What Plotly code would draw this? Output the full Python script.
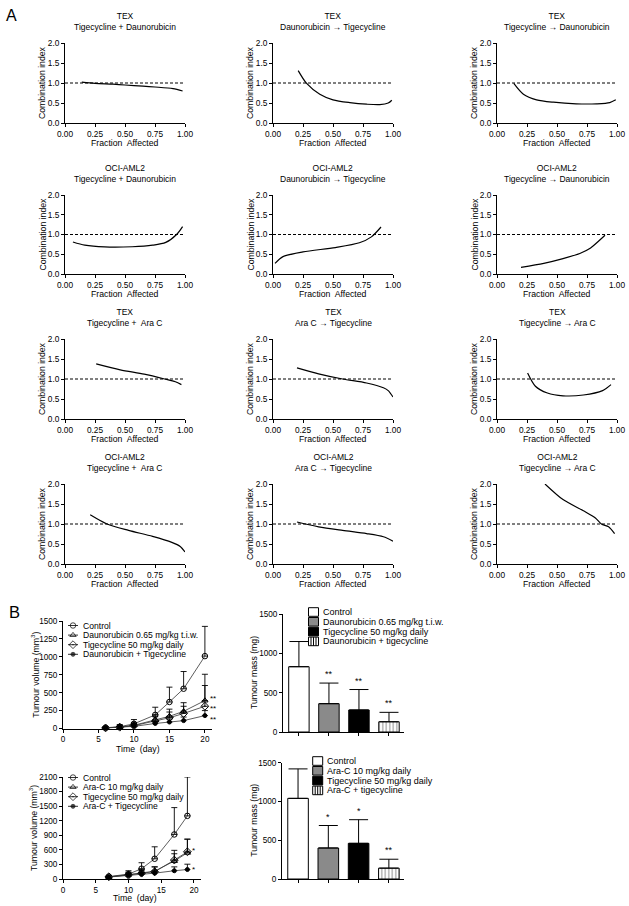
import plotly.graph_objects as go

W, H = 629, 906
FONT = "Arial, Liberation Sans, Helvetica, sans-serif"

# ---------------- Panel A data ----------------
ci_cells = ["TEX", "TEX", "TEX",
            "OCI-AML2", "OCI-AML2", "OCI-AML2",
            "TEX", "TEX", "TEX",
            "OCI-AML2", "OCI-AML2", "OCI-AML2"]
ci_combos = ["Tigecycline + Daunorubicin", "Daunorubicin \u2192 Tigecycline", "Tigecycline \u2192 Daunorubicin",
             "Tigecycline + Daunorubicin", "Daunorubicin \u2192 Tigecycline", "Tigecycline \u2192 Daunorubicin",
             "Tigecycline +  Ara C", "Ara C \u2192 Tigecycline", "Tigecycline \u2192 Ara C",
             "Tigecycline +  Ara C", "Ara C \u2192 Tigecycline", "Tigecycline \u2192 Ara C"]

fa_p1 = [0.14, 0.25, 0.40, 0.50, 0.65, 0.75, 0.90, 0.98]
ci_p1 = [1.02, 0.99, 0.97, 0.95, 0.92, 0.90, 0.86, 0.80]
fa_p2 = [0.21, 0.28, 0.39, 0.50, 0.64, 0.78, 0.89, 0.96, 0.99]
ci_p2 = [1.31, 0.99, 0.72, 0.58, 0.51, 0.47, 0.46, 0.50, 0.57]
fa_p3 = [0.14, 0.22, 0.33, 0.47, 0.66, 0.83, 0.94, 0.99]
ci_p3 = [0.99, 0.72, 0.58, 0.52, 0.48, 0.48, 0.51, 0.58]
fa_p4 = [0.066, 0.165, 0.33, 0.56, 0.73, 0.84, 0.93, 0.98]
ci_p4 = [0.81, 0.73, 0.685, 0.69, 0.73, 0.80, 1.00, 1.20]
fa_p5 = [0.017, 0.083, 0.25, 0.52, 0.72, 0.82, 0.90]
ci_p5 = [0.27, 0.44, 0.56, 0.67, 0.79, 0.94, 1.19]
fa_p6 = [0.20, 0.39, 0.55, 0.69, 0.78, 0.85, 0.90]
ci_p6 = [0.17, 0.27, 0.39, 0.52, 0.66, 0.84, 0.98]
fa_p7 = [0.26, 0.46, 0.66, 0.83, 0.92, 0.97]
ci_p7 = [1.38, 1.23, 1.12, 1.00, 0.93, 0.86]
fa_p8 = [0.20, 0.38, 0.58, 0.78, 0.92, 0.96, 1.00]
ci_p8 = [1.28, 1.13, 1.00, 0.90, 0.78, 0.71, 0.55]
fa_p9 = [0.255, 0.32, 0.42, 0.55, 0.72, 0.88, 0.95]
ci_p9 = [1.15, 0.82, 0.65, 0.58, 0.60, 0.71, 0.86]
fa_p10 = [0.21, 0.35, 0.53, 0.73, 0.89, 0.96, 1.00]
ci_p10 = [1.23, 1.00, 0.84, 0.69, 0.54, 0.44, 0.30]
fa_p11 = [0.20, 0.38, 0.58, 0.78, 0.92, 1.00]
ci_p11 = [1.05, 0.93, 0.84, 0.76, 0.68, 0.57]
fa_p12 = [0.40, 0.55, 0.72, 0.82, 0.87, 0.93, 0.98]
ci_p12 = [2.00, 1.61, 1.33, 1.15, 1.00, 0.93, 0.76]

fa_all = [fa_p1, fa_p2, fa_p3, fa_p4, fa_p5, fa_p6, fa_p7, fa_p8, fa_p9, fa_p10, fa_p11, fa_p12]
ci_all = [ci_p1, ci_p2, ci_p3, ci_p4, ci_p5, ci_p6, ci_p7, ci_p8, ci_p9, ci_p10, ci_p11, ci_p12]
ci_additive = 1.0
fa_ticks = [0, 0.25, 0.5, 0.75, 1.0]
ci_ticks = [0, 0.5, 1.0, 1.5, 2.0]

# ---------------- Panel B data ----------------
days_dnr = [6, 8, 10, 13, 15, 17, 20]
vol_ctrl_dnr = [10, 25, 65, 190, 370, 555, 1010]
sd_ctrl_dnr = [15, 30, 60, 107, 207, 240, 415]
vol_dnr = [8, 20, 45, 120, 170, 240, 390]
sd_dnr = [10, 20, 35, 70, 100, 120, 367]
vol_tig_dnr = [8, 18, 40, 105, 150, 210, 310]
sd_tig_dnr = [10, 15, 30, 60, 80, 100, 290]
vol_combo_dnr = [8, 15, 30, 70, 90, 110, 180]
sd_combo_dnr = [5, 10, 15, 30, 40, 50, 70]
stars_vol_dnr = ["", "**", "**", "**"]
names_vol_dnr = ["Control", "Daunorubicin 0.65 mg/kg t.i.w.", "Tigecycline 50 mg/kg daily", "Daunorubicin + Tigecycline"]

days_arac = [7, 10, 12, 14, 17, 19]
vol_ctrl_arac = [50, 100, 212, 417, 917, 1300]
sd_ctrl_arac = [15, 70, 123, 246, 553, 800]
vol_arac = [40, 90, 130, 160, 370, 540]
sd_arac = [10, 50, 70, 90, 220, 280]
vol_tig_arac = [45, 80, 120, 150, 390, 560]
sd_tig_arac = [10, 40, 60, 100, 130, 260]
vol_combo_arac = [40, 70, 100, 120, 170, 195]
sd_combo_arac = [10, 30, 40, 50, 80, 110]
stars_vol_arac = ["", "*", "", "*"]
names_vol_arac = ["Control", "Ara-C 10 mg/kg daily", "Tigecycline 50 mg/kg daily", "Ara-C + Tigecycline"]

mass_labels_dnr = ["Control", "Daunorubicin 0.65 mg/kg t.i.w.", "Tigecycline 50 mg/kg daily", "Daunorubicin + tigecycline"]
mass_dnr = [830, 360, 280, 130]
mass_sd_dnr = [320, 262, 260, 120]
mass_stars_dnr = ["", "**", "**", "**"]

mass_labels_arac = ["Control", "Ara-C 10 mg/kg daily", "Tigecycline 50 mg/kg daily", "Ara-C + tigecycline"]
mass_arac = [1040, 400, 460, 140]
mass_sd_arac = [380, 290, 305, 115]
mass_stars_arac = ["", "*", "*", "**"]

# ---------------- styles ----------------
bar_colors = ["white", "#8a8a8a", "black", "white"]
bar_patterns = ["", "", "", "|"]
vol_symbols = ["circle-open", "triangle-up-open", "diamond-open-dot", "circle"]
vol_sizes = [5.5, 5.5, 6, 4]
star_shift_dnr = [0, 2, -2, -4]      # px nudges of the significance marks
star_shift_arac = [0, 2, 0, 0]


def fx(p):
    return p / W


def fy(p):
    return 1 - p / H


def xr(ax):
    return "x" if ax == 1 else "x%d" % ax


def yr(ax):
    return "y" if ax == 1 else "y%d" % ax


def xkey(ax):
    return "xaxis" if ax == 1 else "xaxis%d" % ax


def ykey(ax):
    return "yaxis" if ax == 1 else "yaxis%d" % ax


def label(x, y, text, size, angle=0, xanchor="center"):
    return dict(x=fx(x), y=fy(y), xref="paper", yref="paper", text=text, showarrow=False,
                xanchor=xanchor, yanchor="middle", textangle=angle, align="center",
                font=dict(size=size, family=FONT, color="black"))


axis_common = dict(showline=True, linecolor="black", linewidth=1, ticks="outside", ticklen=3,
                   tickwidth=1, tickcolor="black", showgrid=False, zeroline=False, automargin=False,
                   tickfont=dict(size=8.3, family=FONT, color="black"))

fig = go.Figure()
layout = {}
annotations = []
shapes = []

# ---------------- Panel A ----------------
cols_px = [(65, 185), (273, 393), (497, 617)]
ytitle_x = [42, 250, 474]
rows_px = [(43, 123), (195, 274), (339, 419), (484, 564)]
title_cy = [21.5, 173.3, 317.7, 462]

for i in range(12):
    r, c = divmod(i, 3)
    ax = i + 1
    (x0, x1), (y0, y1) = cols_px[c], rows_px[r]
    layout[xkey(ax)] = dict(domain=[fx(x0), fx(x1)], anchor=yr(ax), range=[0, 1],
                            tickvals=fa_ticks, tickformat=".2f", **axis_common)
    layout[ykey(ax)] = dict(domain=[fy(y1), fy(y0)], anchor=xr(ax), range=[0, 2],
                            tickvals=ci_ticks, tickformat=".1f", **axis_common)
    fig.add_trace(go.Scatter(x=fa_all[i], y=ci_all[i], mode="lines",
                             line=dict(color="black", width=1.2, shape="spline", smoothing=0.8),
                             xaxis=xr(ax), yaxis=yr(ax), showlegend=False, cliponaxis=False))
    shapes.append(dict(type="line", xref=xr(ax) + " domain", yref=yr(ax), x0=0, x1=1,
                       y0=ci_additive, y1=ci_additive, layer="below",
                       line=dict(color="black", width=1, dash="3px,2px")))
    annotations.append(label((x0 + x1) / 2, title_cy[r], ci_cells[i] + "<br>" + ci_combos[i], 8.5))
    annotations.append(label((x0 + x1) / 2, y1 + 20, "Fraction  Affected", 8.7))
    annotations.append(label(ytitle_x[c], (y0 + y1) / 2, "Combination index", 8.7, angle=-90))

annotations.append(label(4, 15.5, "A", 16, xanchor="left"))
annotations.append(label(7, 612, "B", 16.5, xanchor="left"))

# ---------------- Panel B line charts ----------------
b_axis = dict(axis_common)
b_axis["tickfont"] = dict(size=8.2, family=FONT, color="black")

line_specs = [
    dict(ax=13, xpx=(63, 212), ypx=(621, 728.5), yr=[0, 1500], ydt=250, days=days_dnr,
         vals=[vol_ctrl_dnr, vol_dnr, vol_tig_dnr, vol_combo_dnr],
         sds=[sd_ctrl_dnr, sd_dnr, sd_tig_dnr, sd_combo_dnr], stars=stars_vol_dnr,
         shifts=star_shift_dnr, names=names_vol_dnr, leg_y=625.5, leg_x=73, ytx=35, xty=749, xtx=137.5),
    dict(ax=14, xpx=(63, 200.5), ypx=(777, 879), yr=[0, 2100], ydt=300, days=days_arac,
         vals=[vol_ctrl_arac, vol_arac, vol_tig_arac, vol_combo_arac],
         sds=[sd_ctrl_arac, sd_arac, sd_tig_arac, sd_combo_arac], stars=stars_vol_arac,
         shifts=star_shift_arac, names=names_vol_arac, leg_y=777.5, leg_x=73, ytx=33, xty=898, xtx=135),
]

leg_ax = 17
layout[xkey(leg_ax)] = dict(domain=[0, 1], range=[0, W], visible=False, anchor=yr(leg_ax),
                            fixedrange=True, automargin=False)
layout[ykey(leg_ax)] = dict(domain=[0, 1], range=[H, 0], visible=False, anchor=xr(leg_ax),
                            fixedrange=True, automargin=False)

for sp in line_specs:
    ax = sp["ax"]
    layout[xkey(ax)] = dict(domain=[fx(sp["xpx"][0]), fx(sp["xpx"][1])], anchor=yr(ax),
                            range=[0, 21], tickvals=[0, 5, 10, 15, 20], **b_axis)
    layout[ykey(ax)] = dict(domain=[fy(sp["ypx"][1]), fy(sp["ypx"][0])], anchor=xr(ax),
                            range=sp["yr"], dtick=sp["ydt"], tick0=0, **b_axis)
    annotations.append(label(sp["xtx"], sp["xty"], "Time  (day)", 8.7))
    annotations.append(label(sp["ytx"], (sp["ypx"][0] + sp["ypx"][1]) / 2,
                             "Tumour volume (mm<sup>3</sup>)", 8.7, angle=-90))
    for k in range(4):
        fig.add_trace(go.Scatter(
            x=sp["days"], y=sp["vals"][k], mode="lines+markers",
            line=dict(color="#333333", width=0.8),
            marker=dict(symbol=vol_symbols[k], size=vol_sizes[k], color="black",
                        line=dict(color="black", width=1)),
            error_y=dict(type="data", symmetric=False, array=sp["sds"][k],
                         arrayminus=[0] * len(sp["sds"][k]), color="black", thickness=0.9, width=3),
            xaxis=xr(ax), yaxis=yr(ax), showlegend=False, cliponaxis=False))
        if sp["stars"][k]:
            annotations.append(dict(x=sp["days"][-1], y=sp["vals"][k][-1], xref=xr(ax),
                                    yref=yr(ax), text=sp["stars"][k], showarrow=False,
                                    xanchor="left", yanchor="middle", xshift=4,
                                    yshift=sp["shifts"][k], borderpad=0,
                                    font=dict(size=8, family=FONT, color="black")))
    step = 9.6
    lx = sp["leg_x"]
    for k in range(4):
        yy = sp["leg_y"] + k * step
        shapes.append(dict(type="line", xref="paper", yref="paper", x0=fx(lx - 5), x1=fx(lx + 5),
                           y0=fy(yy), y1=fy(yy), line=dict(color="black", width=0.8)))
        annotations.append(label(lx + 8, yy, sp["names"][k], 8.6, xanchor="left"))
    fig.add_trace(go.Scatter(
        x=[lx] * 4, y=[sp["leg_y"] + k * step for k in range(4)], mode="markers",
        marker=dict(symbol=vol_symbols, size=vol_sizes, color="black",
                    line=dict(color="black", width=1)),
        xaxis=xr(leg_ax), yaxis=yr(leg_ax), showlegend=False, hoverinfo="skip"))

# ---------------- Panel B bar charts ----------------
bar_specs = [
    dict(ax=15, xpx=(283, 404), ypx=(614, 732), vals=mass_dnr, sds=mass_sd_dnr,
         stars=mass_stars_dnr, labels=mass_labels_dnr, box_x=(308.5, 318.5), leg_y=612, text_x=320.5),
    dict(ax=16, xpx=(282, 404), ypx=(762.7, 879), vals=mass_arac, sds=mass_sd_arac,
         stars=mass_stars_arac, labels=mass_labels_arac, box_x=(312.7, 322.7), leg_y=761, text_x=325),
]

for sp in bar_specs:
    ax = sp["ax"]
    cats = list(range(len(sp["vals"])))
    layout[xkey(ax)] = dict(domain=[fx(sp["xpx"][0]), fx(sp["xpx"][1])], anchor=yr(ax),
                            range=[-0.53, 3.5], tickvals=cats, showticklabels=False, **b_axis)
    layout[ykey(ax)] = dict(domain=[fy(sp["ypx"][1]), fy(sp["ypx"][0])], anchor=xr(ax),
                            range=[0, 1500], tickvals=[0, 500, 1000, 1500], **b_axis)
    annotations.append(label(254, (sp["ypx"][0] + sp["ypx"][1]) / 2, "Tumour mass (mg)", 8.7, angle=-90))
    fig.add_trace(go.Bar(
        x=cats, y=sp["vals"], width=0.68,
        marker=dict(color=bar_colors, line=dict(color="black", width=1),
                    pattern=dict(shape=bar_patterns, fgcolor="black", bgcolor="white", size=3.5,
                                 solidity=0.35)),
        error_y=dict(type="data", symmetric=False, array=sp["sds"], arrayminus=[0] * len(cats),
                     color="black", thickness=1, width=9.5),
        xaxis=xr(ax), yaxis=yr(ax), showlegend=False, cliponaxis=False))
    for k in cats:
        if sp["stars"][k]:
            annotations.append(dict(x=k, y=sp["vals"][k] + sp["sds"][k], xref=xr(ax),
                                    yref=yr(ax), text=sp["stars"][k], showarrow=False,
                                    xanchor="center", yanchor="bottom", yshift=2,
                                    font=dict(size=9, family=FONT, color="black")))
    step = 9.8
    bx0, bx1 = sp["box_x"]
    for k in range(len(sp["labels"])):
        yc = sp["leg_y"] + k * step
        shapes.append(dict(type="rect", xref="paper", yref="paper", x0=fx(bx0), x1=fx(bx1),
                           y0=fy(yc + 4.3), y1=fy(yc - 4.3), fillcolor=bar_colors[k],
                           line=dict(color="black", width=1)))
        if bar_patterns[k]:
            for j in range(1, 4):
                xl = bx0 + j * (bx1 - bx0) / 4
                shapes.append(dict(type="line", xref="paper", yref="paper", x0=fx(xl), x1=fx(xl),
                                   y0=fy(yc + 4.3), y1=fy(yc - 4.3),
                                   line=dict(color="black", width=1)))
        annotations.append(label(sp["text_x"], yc, sp["labels"][k], 9, xanchor="left"))

fig.update_layout(**layout)
fig.update_layout(width=W, height=H, margin=dict(l=0, r=0, t=0, b=0, pad=0, autoexpand=False),
                  paper_bgcolor="white", plot_bgcolor="rgba(0,0,0,0)", showlegend=False,
                  annotations=annotations, shapes=shapes, bargap=0,
                  font=dict(family=FONT, color="black"))

fig.write_html("out.html", config={"displayModeBar": False, "staticPlot": True},
               post_script="document.body.style.margin='0px';document.body.style.padding='0px';")
